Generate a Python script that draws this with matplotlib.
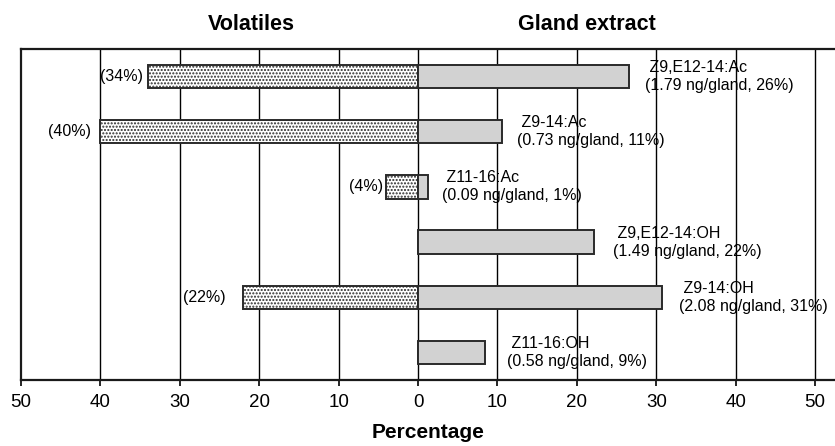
import matplotlib
matplotlib.use("Agg")
import matplotlib.pyplot as plt
from matplotlib.transforms import blended_transform_factory, offset_copy

plt.rcParams['font.family'] = ['Liberation Sans', 'DejaVu Sans']
plt.rcParams['hatch.linewidth'] = 1.0

# ---- data ----
compounds = ["Z9,E12-14:Ac", "Z9-14:Ac", "Z11-16:Ac", "Z9,E12-14:OH", "Z9-14:OH", "Z11-16:OH"]
volatiles = [34, 40, 4, 0, 22, 0]            # percent (drawn to the left)
gland = [26.5, 10.6, 1.2, 22.1, 30.7, 8.4]   # percent (drawn to the right)
gland_amount = ["1.79", "0.73", "0.09", "1.49", "2.08", "0.58"]
gland_pct = ["26%", "11%", "1%", "22%", "31%", "9%"]
vol_labels = ["(34%)", "(40%)", "(4%)", "", "(22%)", ""]
tick_values = [-50, -40, -30, -20, -10, 0, 10, 20, 30, 40, 50]
tick_labels = ["50", "40", "30", "20", "10", "0", "10", "20", "30", "40", "50"]

# label offsets (pixels) - layout only
vol_gap = [5, 9, 3, 0, 18, 0]
gland_gap = [16, 15, 14, 19, 17, 22]

W, H = 835, 446
fig = plt.figure(figsize=(W / 100, H / 100), dpi=100)
ax = fig.add_axes([21 / W, 1 - 380 / H, (W - 21) / W, (380 - 49) / H])

ypos = list(range(len(compounds)))
bar_h = 0.42

# grid lines
for t in tick_values[1:]:
    ax.axvline(t, color='black', lw=1.0, zorder=1)

ax.barh(ypos, [-v for v in volatiles], height=bar_h, color='white',
        edgecolor='#2a2a2a', hatch='.....', lw=1.4, zorder=3)
ax.barh(ypos, gland, height=bar_h, color='#d2d2d2',
        edgecolor='#2a2a2a', lw=1.4, zorder=3)

ax.set_xlim(-50, 52.5)
ax.set_ylim(len(compounds) - 0.5, -0.5)

for i, (v, lab) in enumerate(zip(volatiles, vol_labels)):
    if lab:
        tr = offset_copy(ax.transData, fig=fig, x=-vol_gap[i], y=0, units='dots')
        ax.text(-v, i, lab, transform=tr, ha='right', va='center', fontsize=11.5, zorder=4)

for i, g in enumerate(gland):
    tr = offset_copy(ax.transData, fig=fig, x=gland_gap[i], y=0, units='dots')
    txt = " " + compounds[i] + "\n(" + gland_amount[i] + " ng/gland, " + gland_pct[i] + ")"
    ax.text(g, i, txt, transform=tr, ha='left', va='center', fontsize=11.5,
            linespacing=1.25, zorder=4)

ax.set_xticks(tick_values)
ax.set_xticklabels(tick_labels, fontsize=13.5)
ax.set_yticks([])
ax.tick_params(axis='x', direction='out', length=4, width=1.2, pad=6)

for s in ['left', 'top', 'bottom']:
    ax.spines[s].set_linewidth(1.6)
    ax.spines[s].set_color('#1a1a1a')
ax.spines['right'].set_visible(False)

ax.set_xlabel("Percentage", fontsize=15, fontweight='bold', labelpad=9)

btr = blended_transform_factory(ax.transData, ax.transAxes)
ax.text(-21, 1.074, "Volatiles", transform=btr, ha='center', va='center',
        fontsize=15.5, fontweight='bold')
ax.text(21.2, 1.074, "Gland extract", transform=btr, ha='center', va='center',
        fontsize=15.5, fontweight='bold')

fig.savefig("out.png", dpi=100)
